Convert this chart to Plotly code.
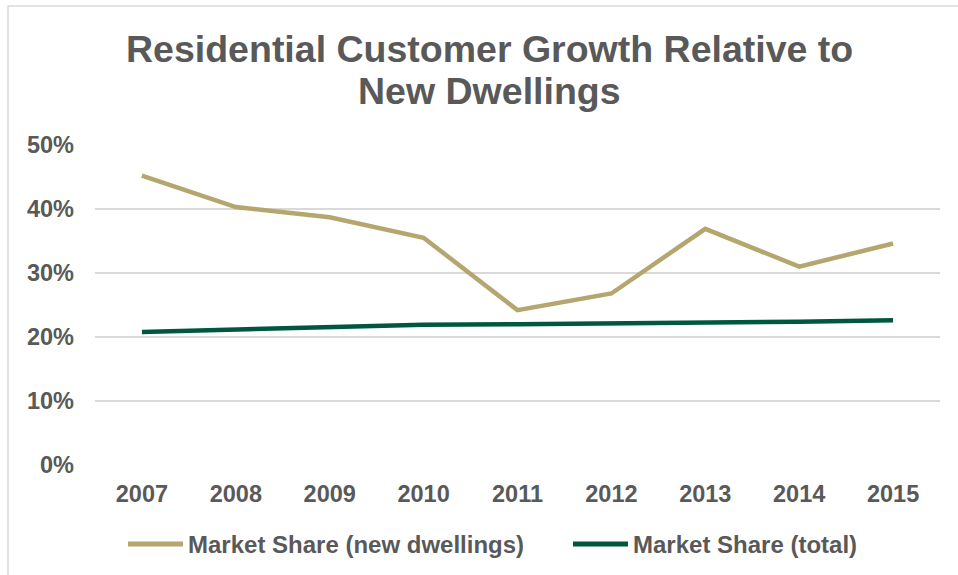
import plotly.graph_objects as go

# Market share series by year
years = ["2007", "2008", "2009", "2010", "2011", "2012", "2013", "2014", "2015"]
share_new_dwellings = [0.452, 0.403, 0.387, 0.355, 0.242, 0.268, 0.369, 0.310, 0.346]
share_total = [0.208, 0.212, 0.215, 0.219, 0.220, 0.221, 0.223, 0.224, 0.226]
series_names = ["Market Share (new dwellings)", "Market Share (total)"]
series_colors = ["#B5A670", "#00573F"]
y_ticks = [0, 0.1, 0.2, 0.3, 0.4, 0.5]
title_lines = ["Residential Customer Growth Relative to", "New Dwellings"]

W, H = 958, 575
ML, MR, MT, MB = 95, 18, 145, 110
PW, PH = W - ML - MR, H - MT - MB

FONT = "Liberation Sans, Arial, sans-serif"
GREY = "#595959"
TICK_SIZE = 23.5


def px_x(px):
    return (px - ML) / PW


def px_y(py):
    return (H - MB - py) / PH


fig = go.Figure()
for vals, name, color in zip([share_new_dwellings, share_total], series_names, series_colors):
    fig.add_trace(go.Scatter(
        x=years, y=vals, name=name, mode="lines",
        line=dict(color=color, width=4.5),
        showlegend=False,
    ))

shapes = []
annotations = []

# Two-line chart title with tight line spacing
for line, top_px in zip(title_lines, [26, 68]):
    annotations.append(dict(xref="paper", yref="paper", x=px_x(489), y=px_y(top_px),
                            xanchor="center", yanchor="top", showarrow=False,
                            text=line, font=dict(family=FONT, size=37.5, color=GREY, weight="bold")))

# Legend drawn as line samples with labels underneath the plot
legend_row_y = px_y(544)
legend_items = [(128, 183, 186), (573, 628, 631)]
for (lx0, lx1, tx), name, color in zip(legend_items, series_names, series_colors):
    shapes.append(dict(type="line", xref="paper", yref="paper",
                       x0=px_x(lx0), x1=px_x(lx1), y0=legend_row_y, y1=legend_row_y,
                       line=dict(color=color, width=5)))
    annotations.append(dict(xref="paper", yref="paper", x=px_x(tx), y=legend_row_y,
                            xanchor="left", yanchor="middle", showarrow=False,
                            text=name, font=dict(family=FONT, size=24, color=GREY, weight="bold")))

# Chart frame
shapes.append(dict(type="rect", xref="paper", yref="paper", layer="below",
                   x0=px_x(8), x1=px_x(975), y0=px_y(590), y1=px_y(6),
                   line=dict(color="#D9D9D9", width=1.5), fillcolor="rgba(0,0,0,0)"))

fig.update_layout(
    width=W, height=H,
    margin=dict(l=ML, r=MR, t=MT, b=MB),
    paper_bgcolor="white", plot_bgcolor="white",
    xaxis=dict(type="category", range=[-0.5, len(years) - 0.5],
               showgrid=False, showline=False, zeroline=False,
               ticks="", ticklabelstandoff=12,
               tickfont=dict(family=FONT, size=TICK_SIZE, color=GREY, weight="bold")),
    yaxis=dict(range=[0, 0.5], tickvals=y_ticks, tickformat=".0%",
               showgrid=True, gridcolor="#D9D9D9", gridwidth=1.5,
               zeroline=False, showline=False, ticks="", ticklabelstandoff=20,
               tickfont=dict(family=FONT, size=TICK_SIZE, color=GREY, weight="bold")),
    shapes=shapes,
    annotations=annotations,
)

fig.write_html("out.html")
